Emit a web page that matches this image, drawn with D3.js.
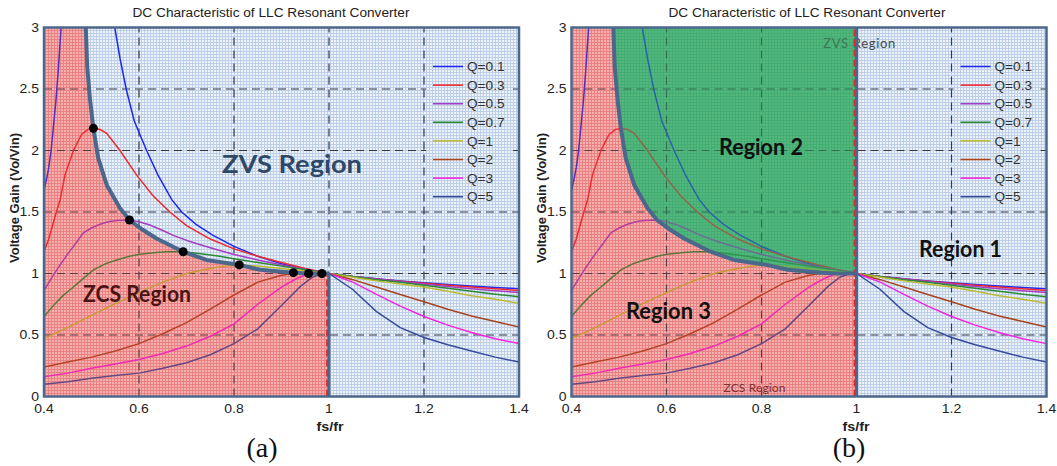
<!DOCTYPE html>
<html>
<head>
<meta charset="utf-8">
<script src="https://cdn.jsdelivr.net/npm/d3@7"></script>
<style>
  body { margin: 0; background: #fff; }
  svg { display: block; }
</style>
</head>
<body>
<svg id="chart" width="1057" height="466"></svg>
<script>
// values: [fs/fr, gain]
var qLabels = ["Q=0.1", "Q=0.3", "Q=0.5", "Q=0.7", "Q=1", "Q=2", "Q=3", "Q=5"];
var qColors = ["#1f28f0", "#ee2a30", "#a43ec4", "#2c8a34", "#bcbc34", "#a8441e", "#f424e0", "#384a9c"];

var q01 = [[0.4,1.68],[0.405,1.76],[0.41,1.86],[0.415,2.0],[0.42,2.2],[0.425,2.4],[0.43,2.65],[0.436,3.0], null,
  [0.549,3.0],[0.56,2.75],[0.573,2.5],[0.59,2.24],[0.616,2.0],[0.64,1.8],[0.669,1.6],[0.69,1.5],[0.72,1.4],
  [0.756,1.31],[0.8,1.22],[0.85,1.14],[0.9,1.08],[0.95,1.035],[1.0,1.0],[1.05,0.975],[1.1,0.957],[1.15,0.94],
  [1.2,0.925],[1.25,0.911],[1.3,0.898],[1.35,0.887],[1.4,0.877]];
var q03 = [[0.4,1.18],[0.41,1.28],[0.418,1.39],[0.426,1.5],[0.434,1.6],[0.444,1.8],[0.462,2.0],[0.479,2.13],
  [0.492,2.17],[0.504,2.18],[0.518,2.17],[0.532,2.14],[0.56,2.0],[0.595,1.8],[0.63,1.63],[0.665,1.5],[0.7,1.39],
  [0.75,1.28],[0.8,1.2],[0.85,1.14],[0.9,1.09],[0.95,1.04],[1.0,1.0],[1.05,0.975],[1.1,0.955],[1.15,0.937],
  [1.2,0.92],[1.25,0.905],[1.3,0.89],[1.35,0.876],[1.4,0.862]];
var q05 = [[0.4,0.86],[0.417,0.97],[0.434,1.07],[0.45,1.16],[0.462,1.22],[0.483,1.33],[0.5,1.37],[0.518,1.4],
  [0.535,1.42],[0.553,1.43],[0.58,1.435],[0.6,1.42],[0.623,1.394],[0.65,1.35],[0.672,1.31],[0.707,1.26],
  [0.75,1.21],[0.8,1.155],[0.85,1.11],[0.9,1.07],[0.95,1.035],[1.0,1.0],[1.05,0.975],[1.1,0.955],[1.15,0.935],
  [1.2,0.915],[1.25,0.895],[1.3,0.877],[1.35,0.86],[1.4,0.845]];
var q07 = [[0.4,0.65],[0.42,0.74],[0.44,0.82],[0.462,0.89],[0.48,0.95],[0.504,1.03],[0.53,1.08],[0.553,1.11],
  [0.58,1.14],[0.602,1.156],[0.63,1.168],[0.658,1.177],[0.693,1.177],[0.73,1.16],[0.77,1.14],[0.8,1.12],
  [0.85,1.09],[0.9,1.06],[0.95,1.03],[1.0,1.0],[1.05,0.975],[1.1,0.95],[1.15,0.928],[1.2,0.905],[1.25,0.88],
  [1.3,0.855],[1.35,0.832],[1.4,0.81]];
var q1 = [[0.4,0.47],[0.45,0.56],[0.5,0.66],[0.55,0.755],[0.6,0.845],[0.65,0.93],[0.7,1.0],[0.75,1.04],
  [0.78,1.06],[0.811,1.07],[0.85,1.06],[0.9,1.04],[0.95,1.02],[1.0,1.0],[1.05,0.97],[1.1,0.94],[1.15,0.915],
  [1.2,0.89],[1.25,0.855],[1.3,0.82],[1.35,0.79],[1.4,0.758]];
var q2 = [[0.4,0.24],[0.45,0.28],[0.5,0.32],[0.55,0.37],[0.6,0.43],[0.65,0.51],[0.7,0.6],[0.75,0.71],
  [0.8,0.825],[0.85,0.93],[0.9,0.985],[0.925,1.0],[0.95,1.0],[1.0,1.0],[1.05,0.95],[1.1,0.89],[1.15,0.83],
  [1.2,0.77],[1.25,0.71],[1.3,0.655],[1.35,0.61],[1.4,0.565]];
var q3 = [[0.4,0.16],[0.45,0.19],[0.5,0.23],[0.55,0.265],[0.6,0.3],[0.65,0.35],[0.7,0.41],[0.75,0.49],
  [0.8,0.59],[0.85,0.75],[0.9,0.89],[0.93,0.955],[0.957,1.0],[1.0,1.0],[1.05,0.93],[1.1,0.83],[1.15,0.735],
  [1.2,0.65],[1.25,0.58],[1.3,0.52],[1.35,0.47],[1.4,0.43]];
var q5 = [[0.4,0.1],[0.45,0.12],[0.5,0.148],[0.55,0.17],[0.6,0.19],[0.65,0.23],[0.7,0.275],[0.75,0.34],
  [0.8,0.43],[0.85,0.55],[0.9,0.74],[0.94,0.895],[0.965,0.97],[0.985,1.0],[1.0,1.0],[1.05,0.87],[1.1,0.69],
  [1.15,0.56],[1.2,0.48],[1.25,0.42],[1.3,0.37],[1.35,0.32],[1.4,0.28]];
var qSeries = [q01, q03, q05, q07, q1, q2, q3, q5];

// ZVS / ZCS border through the peaks
var boundary = [[0.488,3.0],[0.491,2.68],[0.497,2.41],[0.504,2.18],[0.514,1.94],[0.532,1.72],[0.56,1.53],
  [0.58,1.435],[0.602,1.37],[0.637,1.285],[0.693,1.177],[0.742,1.11],[0.811,1.07],[0.855,1.03],[0.925,1.007],
  [0.957,1.0],[0.985,1.0],[1.0,1.0]];
var peakX = [0.504, 0.58, 0.693, 0.811, 0.925, 0.957, 0.985];
var peakY = [2.18, 1.435, 1.177, 1.07, 1.007, 1.0, 1.0];

var xTicks = [0.4, 0.6, 0.8, 1, 1.2, 1.4];
var yTicks = [0, 0.5, 1, 1.5, 2, 2.5, 3];

var svg = d3.select("#chart");
var defs = svg.append("defs");
var sans = "'Liberation Sans', Arial, sans-serif";

// graph-paper fills
function paper(id, bg, ln) {
  var p = defs.append("pattern").attr("id", id).attr("patternUnits", "userSpaceOnUse")
    .attr("width", 3).attr("height", 3);
  p.append("rect").attr("width", 3).attr("height", 3).attr("fill", bg);
  p.append("path").attr("d", "M0 0.5H3M0.5 0V3").attr("stroke", ln).attr("stroke-width", 1);
}
paper("pRed", "#fbdcdc", "#ee9a9a");
paper("pBlue", "#eef3fa", "#bccfe7");
paper("pGreen", "#76cf98", "#56ba82");

function txt(parent, x, y, s, sx, anchor) {
  return parent.append("text")
    .attr("transform", "translate(" + x + "," + y + ") scale(" + sx + ",1)")
    .attr("text-anchor", anchor || "start")
    .text(s);
}

function drawPanel(o) {
  var x = d3.scaleLinear().domain([0.4, 1.4]).range([o.left, o.left + 475]);
  var y = d3.scaleLinear().domain([0, 3]).range([396.5, 27.5]);
  var line = d3.line().defined(function(d) { return d !== null; })
    .x(function(d) { return x(d[0]); })
    .y(function(d) { return y(d[1]); });

  defs.append("clipPath").attr("id", "clip" + o.id).append("rect")
    .attr("x", x(0.4)).attr("y", y(3)).attr("width", x(1.4) - x(0.4)).attr("height", y(0) - y(3));
  var g = svg.append("g");
  var plot = g.append("g").attr("clip-path", "url(#clip" + o.id + ")");

  var redPoly = [[0.4, 0], [0.4, 3]].concat(boundary).concat([[1, 0]]);
  var greenPoly = boundary.concat([[1, 3]]);

  plot.append("rect").attr("x", x(0.4)).attr("y", y(3))
    .attr("width", x(1.4) - x(0.4)).attr("height", y(0) - y(3)).attr("fill", "url(#pBlue)");
  plot.append("path").attr("d", line(redPoly) + "Z").attr("fill", "url(#pRed)");
  if (o.regions) plot.append("path").attr("d", line(greenPoly) + "Z").attr("fill", "url(#pGreen)");

  // dashed grid
  var grid = plot.append("g").attr("stroke", "#343a44").attr("stroke-width", 1.2)
    .attr("stroke-dasharray", "8,5");
  grid.selectAll(".gx").data(xTicks.slice(1, -1)).enter().append("line")
    .attr("x1", function(d) { return x(d); }).attr("x2", function(d) { return x(d); })
    .attr("y1", y(0)).attr("y2", y(3));
  grid.selectAll(".gy").data(yTicks.slice(1, -1)).enter().append("line")
    .attr("y1", function(d) { return y(d); }).attr("y2", function(d) { return y(d); })
    .attr("x1", x(0.4)).attr("x2", x(1.4));

  // legend backing
  plot.append("rect").attr("x", x(1.2) + 2).attr("y", 55).attr("width", x(1.4) - x(1.2) - 8)
    .attr("height", 151).attr("fill", "url(#pBlue)");

  plot.selectAll(".curve").data(qSeries).enter().append("path")
    .attr("d", line).attr("fill", "none")
    .attr("stroke", function(d, i) { return qColors[i]; })
    .attr("stroke-width", 1.5);

  if (o.regions) {
    txt(plot, x(0.93), 48, "ZVS Region", 1, "start").attr("fill", "#4a4a4a")
      .style("font", "13px Lato, sans-serif").attr("textLength", 72);
    txt(plot, x(0.72), 392, "ZCS Region", 1, "start").attr("fill", "#5a2a2a")
      .style("font", "12px Lato, sans-serif").attr("textLength", 62);
  }

  // tints laid over the curves
  plot.append("path").attr("d", line(redPoly) + "Z").attr("fill", "#e04040").attr("opacity", 0.27);
  if (o.regions) plot.append("path").attr("d", line(greenPoly) + "Z").attr("fill", "#32a064").attr("opacity", 0.5);

  var top = o.regions ? 3 : 1;
  plot.append("line").attr("x1", x(0.996)).attr("x2", x(0.996)).attr("y1", y(0)).attr("y2", y(top))
    .attr("stroke", "#e02828").attr("stroke-width", 2).attr("stroke-dasharray", "7,3");
  plot.append("line").attr("x1", x(1)).attr("x2", x(1)).attr("y1", y(0)).attr("y2", y(top))
    .attr("stroke", "#4b678b").attr("stroke-width", 3);
  plot.append("path").attr("d", line(boundary)).attr("fill", "none")
    .attr("stroke", "#4b678b").attr("stroke-width", 4).attr("stroke-linejoin", "round");

  if (!o.regions) {
    plot.selectAll(".peak").data(peakX).enter().append("circle")
      .attr("cx", function(d) { return x(d); })
      .attr("cy", function(d, i) { return y(peakY[i]); })
      .attr("r", 4.5).attr("fill", "#000");
  }

  // region labels
  function label(px, py, s, size, w, col) {
    g.append("text").attr("x", px).attr("y", py).style("font", "bold " + size + "px Lato, sans-serif")
      .attr("fill", col).attr("textLength", w).attr("lengthAdjust", "spacingAndGlyphs").text(s);
  }
  if (o.regions) {
    label(719, 155, "Region 2", 22, 84, "#111");
    label(919, 257, "Region 1", 22, 83, "#111");
    label(626, 319, "Region 3", 22, 85, "#111");
  } else {
    label(222, 173, "ZVS Region", 24, 140, "#2e4868");
    label(83, 302, "ZCS Region", 22, 108, "#4a1414");
  }

  // legend
  var lg = g.append("g");
  qLabels.forEach(function(lab, i) {
    var ly = 66.5 + i * 18.6;
    lg.append("line").attr("x1", o.left + 389).attr("x2", o.left + 419).attr("y1", ly).attr("y2", ly)
      .attr("stroke", qColors[i]).attr("stroke-width", 1.6);
    txt(lg, o.left + 423, ly + 4.6, lab, 1.05).style("font", "13px " + sans).attr("fill", "#333");
  });

  g.append("rect").attr("x", x(0.4)).attr("y", y(3)).attr("width", x(1.4) - x(0.4))
    .attr("height", y(0) - y(3)).attr("fill", "none").attr("stroke", "#4b678b").attr("stroke-width", 2.5);

  // axes text
  var ax = g.append("g").style("font", "12.5px " + sans).attr("fill", "#222");
  xTicks.forEach(function(t) { txt(ax, x(t), 413, String(t), 1.12, "middle"); });
  yTicks.forEach(function(t) { txt(ax, x(0.4) - 5, y(t) + 4, String(t), 1.12, "end"); });

  txt(g, o.fsX, 431, "fs/fr", 1.1, "middle").style("font", "bold 13px " + sans).attr("fill", "#222");
  g.append("text").attr("transform", "translate(" + o.ylabX + ",198) rotate(-90)")
    .attr("text-anchor", "middle").style("font", "bold 13px " + sans).attr("fill", "#222")
    .text("Voltage Gain (Vo/Vin)");
  g.append("text").attr("x", o.titleX).attr("y", 17).attr("text-anchor", "middle")
    .style("font", "12px " + sans).attr("fill", "#222").attr("textLength", 277)
    .attr("lengthAdjust", "spacingAndGlyphs").text("DC Characteristic of LLC Resonant Converter");
  g.append("text").attr("x", o.capX).attr("y", 457).attr("text-anchor", "middle")
    .style("font", "28px 'Liberation Serif', 'Times New Roman', serif").attr("fill", "#111")
    .text(o.caption);
}

drawPanel({ id: "a", left: 44, regions: false, titleX: 271, capX: 262, fsX: 330, ylabX: 19, caption: "(a)" });
drawPanel({ id: "b", left: 571.5, regions: true, titleX: 807, capX: 849, fsX: 856, ylabX: 546, caption: "(b)" });
</script>
</body>
</html>
